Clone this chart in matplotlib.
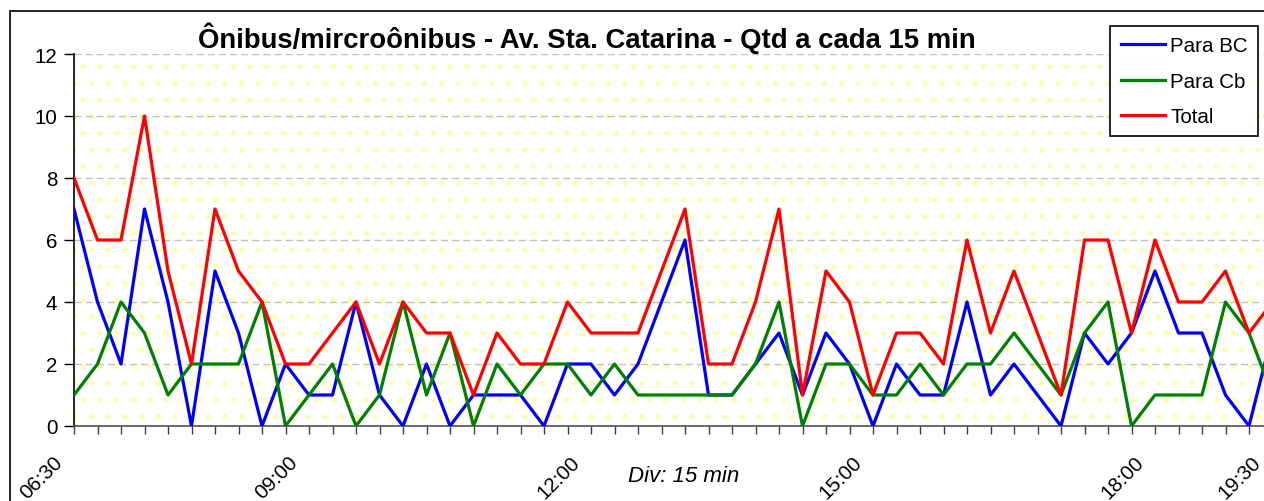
import matplotlib
matplotlib.use("Agg")
import matplotlib.pyplot as plt
from matplotlib.patches import Rectangle
from matplotlib.lines import Line2D

# counts per 15 min slot
para_bc = [7, 4, 2, 7, 4, 0, 5, 3, 0, 2, 1, 1, 4, 1, 0, 2, 0, 1, 1, 1,
           0, 2, 2, 1, 2, 4, 6, 1, 1, 2, 3, 1, 3, 2, 0, 2, 1, 1, 4, 1,
           2, 1, 0, 3, 2, 3, 5, 3, 3, 1, 0, 3]
para_cb = [1, 2, 4, 3, 1, 2, 2, 2, 4, 0, 1, 2, 0, 1, 4, 1, 3, 0, 2, 1,
           2, 2, 1, 2, 1, 1, 1, 1, 1, 2, 4, 0, 2, 2, 1, 1, 2, 1, 2, 2,
           3, 2, 1, 3, 4, 0, 1, 1, 1, 4, 3, 1]
total = [8, 6, 6, 10, 5, 2, 7, 5, 4, 2, 2, 3, 4, 2, 4, 3, 3, 1, 3, 2,
         2, 4, 3, 3, 3, 5, 7, 2, 2, 4, 7, 1, 5, 4, 1, 3, 3, 2, 6, 3,
         5, 3, 1, 6, 6, 3, 6, 4, 4, 5, 3, 4]

time_labels = ["06:30", "09:00", "12:00", "15:00", "18:00", "19:30"]
time_pos = [-1, 9, 21, 33, 45, 50]

plt.rcParams["font.family"] = ["Liberation Sans", "DejaVu Sans"]

W, H = 1264, 502
fig = plt.figure(figsize=(W / 100, H / 100), dpi=100)

# plot area: x index 0 at px 74, 23.5 px per slot; y 0 at px 427, 12 at px 55
n_max = 52
x0, step = 74, 23.5
y0, y12 = 427, 55
ax = fig.add_axes([x0 / W, (H - y0) / H, step * n_max / W, (y0 - y12) / H])

# chart area border (top and left visible only)
fig.patches.append(Rectangle((10 / W, -0.5), 2, 0.5 + (H - 12) / H,
                             transform=fig.transFigure, fill=False,
                             edgecolor="black", linewidth=1.2))

# dotted pale yellow background
ax.set_facecolor("white")
ax.add_patch(Rectangle((0, 0), 1, 1, transform=ax.transAxes,
                       facecolor="white", edgecolor="#FFFFA0", hatch=".",
                       linewidth=0, zorder=0))

x = list(range(len(total)))
ax.plot(x, para_bc, color="#0000FF", lw=2.3, label="Para BC", zorder=3)
ax.plot(x, para_cb, color="#008000", lw=2.3, label="Para Cb", zorder=4)
ax.plot(x, total, color="#FF0000", lw=2.3, label="Total", zorder=5)

ax.set_xlim(0, n_max)
ax.set_ylim(0, 12)
ax.set_yticks(range(0, 13, 2))
ax.set_xticks(range(0, n_max + 1))
ax.set_xticklabels([])
ax.tick_params(axis="y", direction="out", length=7, width=1, pad=5,
               labelsize=14.8, colors="black")
ax.tick_params(axis="x", direction="out", length=6, width=1, color="#404040")
ax.grid(axis="y", color="#C0C0C0", linestyle=(0, (5, 3)), linewidth=1)
ax.set_axisbelow(True)

for s in ["top", "right"]:
    ax.spines[s].set_visible(False)
ax.spines["left"].set_color("black")
ax.spines["bottom"].set_color("#505050")
ax.spines["left"].set_linewidth(1.2)
ax.spines["bottom"].set_linewidth(1.2)

# time labels
trans = ax.get_xaxis_transform()
for lab, p in zip(time_labels, time_pos):
    ax.text(p + 0.1, -0.07, lab, transform=trans, rotation=45,
            rotation_mode="anchor", ha="right", va="top", fontsize=14.8,
            clip_on=False)

fig.text(684 / W, 1 - 477 / H, "Div: 15 min", ha="center", va="center",
         fontsize=16, style="italic")
fig.text(587 / W, 1 - 38 / H,
         "Ônibus/mircroônibus - Av. Sta. Catarina - Qtd a cada 15 min",
         ha="center", va="center", fontsize=19.8, fontweight="bold")

handles = [Line2D([], [], color="#0000FF", lw=2.3),
           Line2D([], [], color="#008000", lw=2.3),
           Line2D([], [], color="#FF0000", lw=2.3)]
leg = fig.legend(handles, ["Para BC", "Para Cb", "Total"],
                 loc="upper right", bbox_to_anchor=(1258 / W, 1 - 27 / H),
                 fontsize=14.8, frameon=True, fancybox=False, framealpha=1,
                 edgecolor="black", borderaxespad=0, borderpad=0.5,
                 labelspacing=0.8, handlelength=2.15, handletextpad=0.25)
leg.get_frame().set_linewidth(1.2)

fig.savefig("out.png", dpi=100)
